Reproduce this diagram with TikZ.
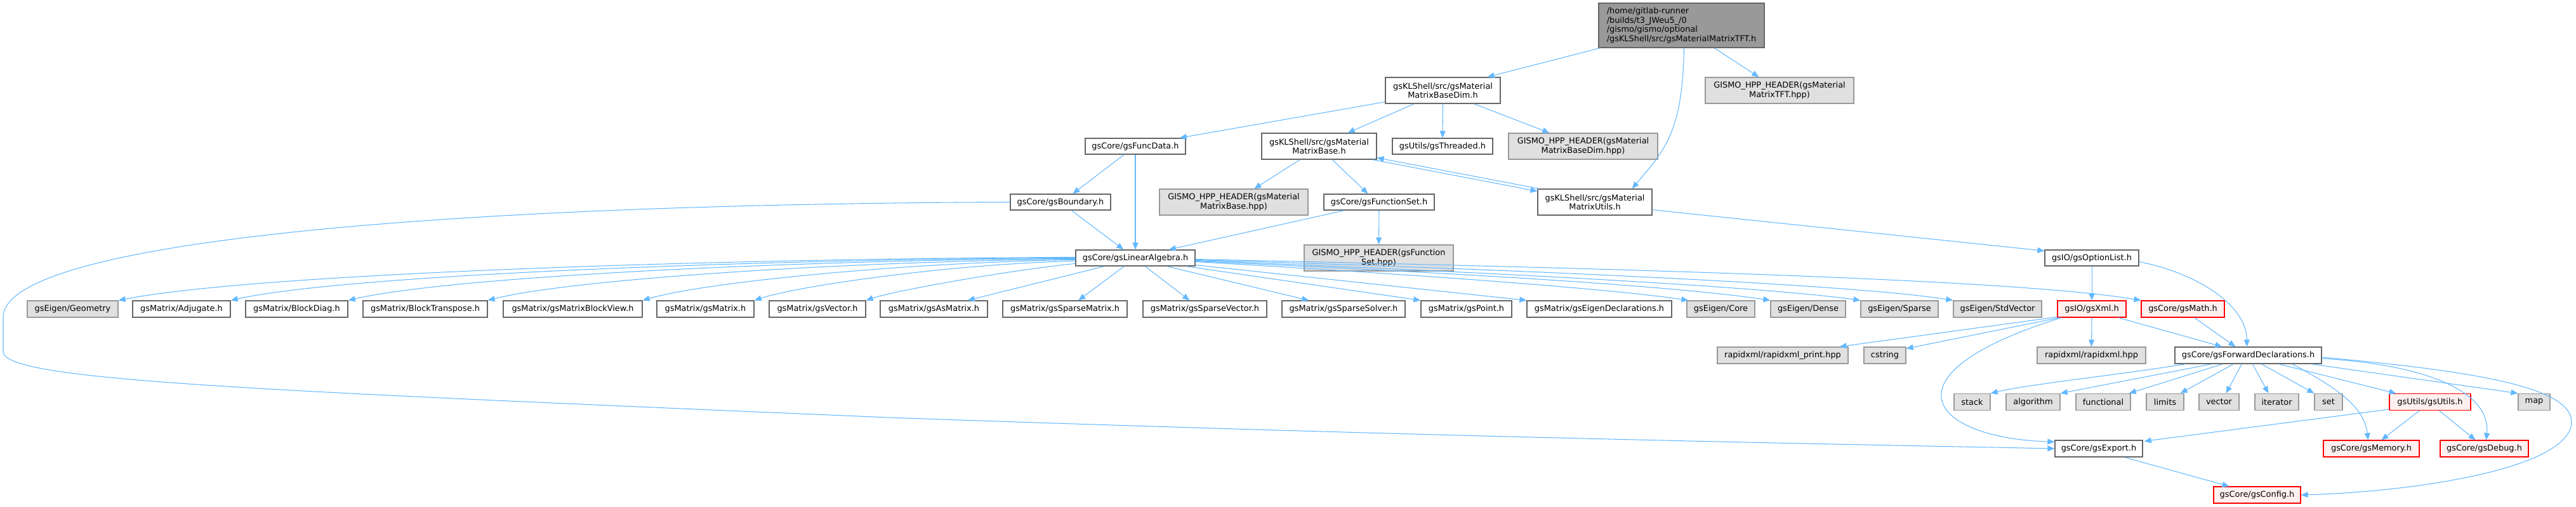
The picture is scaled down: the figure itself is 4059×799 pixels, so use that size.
\documentclass[tikz,border=0pt]{standalone}
\usepackage{fontspec}
\setmainfont{DejaVu Sans}
\usetikzlibrary{arrows.meta,calc}
\definecolor{edgeblue}{HTML}{63B8FF}
\definecolor{bdgray}{HTML}{666666}
\definecolor{extfill}{HTML}{E0E0E0}
\definecolor{extbd}{HTML}{999999}
\definecolor{rootfill}{HTML}{999999}
\definecolor{redfill}{HTML}{FFF0F0}
\definecolor{redbd}{HTML}{FF0000}
\begin{document}
\begin{tikzpicture}[x=1pt,y=-1pt,
  nb/.style={line width=1.3pt, inner sep=0pt, align=center, text=black, font=\fontsize{12.9}{14.5}\selectfont},
  filebox/.style={nb, draw=bdgray, fill=white},
  extbox/.style={nb, draw=extbd, fill=extfill},
  redbox/.style={nb, draw=redbd, fill=redfill, line width=1.1pt},
  rootbox/.style={nb, draw=bdgray, fill=rootfill, align=left},
  sz/.style 2 args={minimum width=#1pt, minimum height=#2pt},
  ed/.style={draw=edgeblue, line width=1.05pt, -{Triangle[length=11pt,width=9pt]}}]
\useasboundingbox (0,0) rectangle (4059,799);

% nodes
\node[rootbox, sz={261}{70}] (root) at (2649.5,40) {/home/gitlab-runner\\/builds/t3\_JWeu5\_/0\\/gismo/gismo/optional\\/gsKLShell/src/gsMaterialMatrixTFT.h};
\node[filebox, sz={181}{41}] (basedim) at (2273.5,142.5) {gsKLShell/src/gsMaterial\\MatrixBaseDim.h};
\node[extbox, sz={234}{41}] (tfthpp) at (2804,142.5) {GISMO\_HPP\_HEADER(gsMaterial\\MatrixTFT.hpp)};
\node[filebox, sz={181}{41}] (mbase) at (2078.5,230.5) {gsKLShell/src/gsMaterial\\MatrixBase.h};
\node[filebox, sz={158}{25}] (threaded) at (2273,230.5) {gsUtils/gsThreaded.h};
\node[extbox, sz={235}{41}] (basedimhpp) at (2494.5,230.5) {GISMO\_HPP\_HEADER(gsMaterial\\MatrixBaseDim.hpp)};
\node[filebox, sz={158}{25}] (funcdata) at (1789,230.5) {gsCore/gsFuncData.h};
\node[extbox, sz={234}{41}] (basehpp) at (1944,318.5) {GISMO\_HPP\_HEADER(gsMaterial\\MatrixBase.hpp)};
\node[filebox, sz={174}{25}] (funcset) at (2173,318.5) {gsCore/gsFunctionSet.h};
\node[filebox, sz={180}{41}] (utils) at (2513,318.5) {gsKLShell/src/gsMaterial\\MatrixUtils.h};
\node[filebox, sz={158}{25}] (boundary) at (1671,318.5) {gsCore/gsBoundary.h};
\node[extbox, sz={235}{41}] (funcsethpp) at (2172.5,406.5) {GISMO\_HPP\_HEADER(gsFunction\\Set.hpp)};
\node[filebox, sz={188}{25}] (linalg) at (1789,406.5) {gsCore/gsLinearAlgebra.h};
\node[filebox, sz={148}{25}] (optlist) at (3296,406.5) {gsIO/gsOptionList.h};

\node[extbox, sz={143}{26}] (geometry) at (114.5,487) {gsEigen/Geometry};
\node[filebox, sz={154}{26}] (adjugate) at (286,487) {gsMatrix/Adjugate.h};
\node[filebox, sz={161}{26}] (blockdiag) at (467.5,487) {gsMatrix/BlockDiag.h};
\node[filebox, sz={196}{26}] (blocktr) at (670,487) {gsMatrix/BlockTranspose.h};
\node[filebox, sz={219}{26}] (blockview) at (902.5,487) {gsMatrix/gsMatrixBlockView.h};
\node[filebox, sz={153}{26}] (matrix) at (1111.5,487) {gsMatrix/gsMatrix.h};
\node[filebox, sz={152}{26}] (vector) at (1288,487) {gsMatrix/gsVector.h};
\node[filebox, sz={169}{26}] (asmatrix) at (1471.5,487) {gsMatrix/gsAsMatrix.h};
\node[filebox, sz={196}{26}] (spmatrix) at (1678,487) {gsMatrix/gsSparseMatrix.h};
\node[filebox, sz={195}{26}] (spvector) at (1898.5,487) {gsMatrix/gsSparseVector.h};
\node[filebox, sz={194}{26}] (spsolver) at (2117,487) {gsMatrix/gsSparseSolver.h};
\node[filebox, sz={143}{26}] (point) at (2310.5,487) {gsMatrix/gsPoint.h};
\node[filebox, sz={228}{26}] (eigendecl) at (2520,487) {gsMatrix/gsEigenDeclarations.h};
\node[extbox, sz={107}{26}] (core) at (2711.5,487) {gsEigen/Core};
\node[extbox, sz={118}{26}] (dense) at (2849,487) {gsEigen/Dense};
\node[extbox, sz={122}{26}] (sparse) at (2993,487) {gsEigen/Sparse};
\node[extbox, sz={139}{26}] (stdvector) at (3147.5,487) {gsEigen/StdVector};
\node[redbox, sz={108}{26}] (xml) at (3296,487) {gsIO/gsXml.h};
\node[redbox, sz={131}{26}] (math) at (3439.5,487) {gsCore/gsMath.h};

\node[extbox, sz={206}{26}] (rapidprint) at (2809,560) {rapidxml/rapidxml\_print.hpp};
\node[extbox, sz={66}{26}] (cstring) at (2970,560) {cstring};
\node[extbox, sz={171}{26}] (rapidxml) at (3295.5,560) {rapidxml/rapidxml.hpp};
\node[filebox, sz={231}{26}] (fwd) at (3542.5,560) {gsCore/gsForwardDeclarations.h};

\node[extbox, sz={57}{26}] (stack) at (3107.5,633.5) {stack};
\node[extbox, sz={85}{26}] (algorithm) at (3203.5,633.5) {algorithm};
\node[extbox, sz={86}{26}] (functional) at (3314,633.5) {functional};
\node[extbox, sz={59}{26}] (limits) at (3411.5,633.5) {limits};
\node[extbox, sz={63}{26}] (stdvec) at (3496.5,633.5) {vector};
\node[extbox, sz={69}{26}] (iterator) at (3587.5,633.5) {iterator};
\node[extbox, sz={44}{26}] (set) at (3669,633.5) {set};
\node[redbox, sz={128}{26}] (gsutils) at (3829,633.5) {gsUtils/gsUtils.h};
\node[extbox, sz={50}{26}] (map) at (3993,633.5) {map};

\node[filebox, sz={138}{26}] (export) at (3307,707) {gsCore/gsExport.h};
\node[redbox, sz={151}{26}] (memory) at (3736.5,707) {gsCore/gsMemory.h};
\node[redbox, sz={139}{26}] (debug) at (3914.5,707) {gsCore/gsDebug.h};
\node[redbox, sz={137}{26}] (config) at (3556.5,780) {gsCore/gsConfig.h};

% edges from root
\draw[ed] ($(root.south west)+(3,0)$) -- ($(basedim.north east)+(-21,0)$);
\draw[ed] ($(root.south west)+(135,0)$) .. controls (2652,210) and (2620,240) .. ($(utils.north east)+(-32,0)$);
\draw[ed] ($(root.south west)+(183,0)$) -- ($(tfthpp.north west)+(85,0)$);
% basedim
\draw[ed] ($(basedim.south west)+(0,-3)$) -- ($(funcdata.north east)+(-10,0)$);
\draw[ed] ($(basedim.south west)+(46,0)$) -- ($(mbase.north east)+(-46,0)$);
\draw[ed] (basedim.south) -- (threaded.north);
\draw[ed] ($(basedim.south east)+(-42,0)$) -- ($(basedimhpp.north west)+(65,0)$);
% matrix base
\draw[ed] ($(mbase.south west)+(61,0)$) -- ($(basehpp.north west)+(150,0)$);
\draw[ed] ($(mbase.south west)+(112,0)$) -- ($(funcset.north west)+(70,0)$);
\draw[ed] ($(mbase.south east)+(-7,0)$) -- ($(utils.north west)+(0,4)$);
\draw[ed] ($(utils.north west)+(3,0)$) -- ($(mbase.south east)+(0,-3)$);
% funcset
\draw[ed] ($(funcset.south west)+(33,0)$) -- ($(linalg.north east)+(-42,0)$);
\draw[ed] (funcset.south) -- (funcsethpp.north);
% utils
\draw[ed] ($(utils.south east)+(0,-9)$) -- ($(optlist.north west)+(0,2)$);
% funcdata, boundary
\draw[ed] ($(funcdata.south west)+(62,0)$) -- ($(boundary.north west)+(99,0)$);
\draw[ed] (funcdata.south) -- (linalg.north);
\draw[ed] ($(boundary.south west)+(97,0)$) -- ($(linalg.north west)+(76,0)$);
\draw[ed] (boundary.west) .. controls (700,322) and (5,380) .. (5,500) -- (5,555) .. controls (10,600) and (400,615) .. (1400,658) .. controls (2300,690) and (2900,700) .. (export.west);

% linear algebra fan, left
\draw[ed] ($(linalg.north west)+(0,12)$) .. controls (1100,408) and (400,432) .. (geometry.north east);
\draw[ed] ($(linalg.north west)+(0,13)$) .. controls (1170,409) and (540,434) .. (adjugate.north east);
\draw[ed] ($(linalg.north west)+(0,14)$) .. controls (1250,410) and (710,436) .. (blockdiag.north east);
\draw[ed] ($(linalg.north west)+(0,15)$) .. controls (1330,412) and (900,440) .. (blocktr.north east);
\draw[ed] ($(linalg.north west)+(0,16)$) .. controls (1420,414) and (1110,445) .. (blockview.north east);
\draw[ed] ($(linalg.north west)+(0,18)$) .. controls (1500,416) and (1260,450) .. (matrix.north east);
\draw[ed] ($(linalg.north west)+(0,22)$) .. controls (1590,426) and (1410,458) .. (vector.north east);
% bottom
\draw[ed] ($(linalg.south west)+(46,0)$) -- ($(asmatrix.north east)+(-32,0)$);
\draw[ed] ($(linalg.south west)+(77,0)$) -- ($(spmatrix.north west)+(120,0)$);
\draw[ed] ($(linalg.south west)+(110,0)$) -- ($(spvector.north west)+(74,0)$);
\draw[ed] ($(linalg.south west)+(144,0)$) -- ($(spsolver.north west)+(43,0)$);
\draw[ed] ($(linalg.south east)+(-15,0)$) -- (point.north west);
\draw[ed] ($(linalg.south east)+(0,-2)$) -- (eigendecl.north west);
% right
\draw[ed] ($(linalg.east)+(0,6)$) .. controls (2100,425) and (2500,450) .. ($(core.north west)+(3,0)$);
\draw[ed] ($(linalg.east)+(0,5)$) .. controls (2150,424) and (2600,445) .. (dense.north west);
\draw[ed] ($(linalg.east)+(0,4)$) .. controls (2200,423) and (2750,448) .. (sparse.north west);
\draw[ed] ($(linalg.east)+(0,3)$) .. controls (2250,420) and (2900,445) .. (stdvector.north west);
\draw[ed] ($(linalg.east)+(0,2)$) .. controls (2300,418) and (3150,435) .. (math.north west);

% option list
\draw[ed] (optlist.south) -- (xml.north);
\draw[ed] ($(optlist.east)+(0,6)$) .. controls (3460,430) and (3540,480) .. ($(fwd.north west)+(114,0)$);
% xml
\draw[ed] ($(xml.south west)+(0,-1)$) -- ($(rapidprint.north east)+(-14,0)$);
\draw[ed] ($(xml.south west)+(4,0)$) -- ($(cstring.north east)+(0,3)$);
\draw[ed] (xml.south) -- (rapidxml.north);
\draw[ed] ($(xml.south east)+(-13,0)$) -- ($(fwd.north west)+(75,0)$);
\draw[ed] ($(xml.south west)+(7,0)$) .. controls (2960,590) and (3040,690) .. ($(export.north west)+(0,3)$);
\draw[ed] ($(math.south west)+(84,0)$) -- ($(fwd.north west)+(96,0)$);

% forward declarations
\draw[ed] ($(fwd.south west)+(18,0)$) .. controls (3330,592) and (3200,605) .. (stack.north east);
\draw[ed] ($(fwd.south west)+(59,0)$) -- (algorithm.north east);
\draw[ed] ($(fwd.south west)+(76,0)$) -- ($(functional.north east)+(-3,0)$);
\draw[ed] ($(fwd.south west)+(93,0)$) -- ($(limits.north east)+(-6,0)$);
\draw[ed] ($(fwd.south west)+(106,0)$) -- ($(stdvec.north)+(11,0)$);
\draw[ed] ($(fwd.south west)+(123,0)$) -- ($(iterator.north west)+(22,0)$);
\draw[ed] ($(fwd.south west)+(137,0)$) -- (set.north west);
\draw[ed] ($(fwd.south west)+(164,0)$) -- ($(gsutils.north west)+(11,0)$);
\draw[ed] ($(fwd.south east)+(-17,0)$) -- (map.north west);
\draw[ed] ($(fwd.south east)+(-47,0)$) .. controls (3680,610) and (3725,640) .. ($(memory.north west)+(71,0)$);
\draw[ed] ($(fwd.east)+(0,5)$) .. controls (3830,575) and (3925,620) .. ($(debug.north west)+(73,0)$);
\draw[ed] ($(fwd.east)+(0,3)$) .. controls (3900,585) and (4055,610) .. (4052,667) .. controls (4045,740) and (3800,775) .. (config.east);

% gsUtils
\draw[ed] ($(gsutils.south west)+(0,-2)$) -- ($(export.north east)+(2,2)$);
\draw[ed] ($(gsutils.south west)+(48,0)$) -- ($(memory.north west)+(92,0)$);
\draw[ed] ($(gsutils.south west)+(79,0)$) -- ($(debug.north west)+(56,0)$);
% export
\draw[ed] ($(export.south west)+(110,0)$) -- ($(config.north west)+(25,0)$);
\end{tikzpicture}
\end{document}
